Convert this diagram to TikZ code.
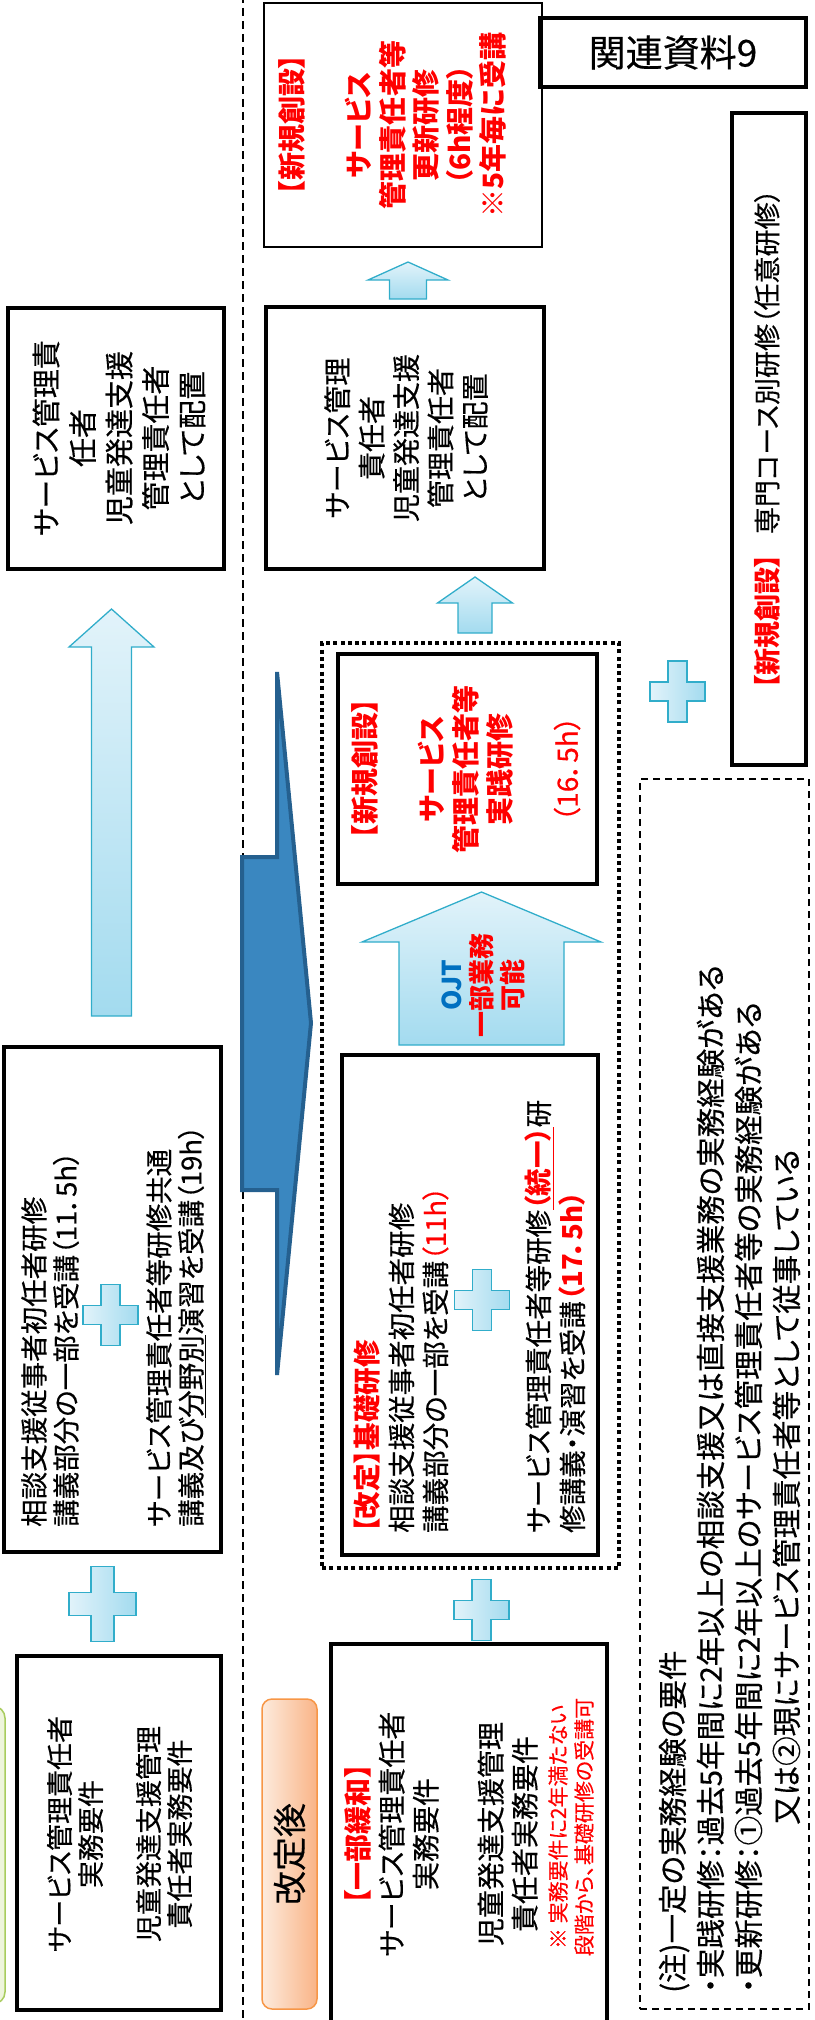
\documentclass[tikz,border=0pt]{standalone}
\usepackage{fontspec}
\setmainfont{Noto Sans CJK JP}[RawFeature=+palt,UprightFeatures={FakeBold=0.4}]
\usepackage{tikz}

\definecolor{kred}{HTML}{FF0000}
\definecolor{ojtblue}{HTML}{0070C0}
\definecolor{aqline}{HTML}{31ADCA}
\definecolor{aqlight}{HTML}{E2F3FA}
\definecolor{aqdark}{HTML}{A3DBEF}
\definecolor{bigfill}{HTML}{3A87C0}
\definecolor{bigline}{HTML}{25608F}
\definecolor{orline}{HTML}{F79646}
\definecolor{orlight}{HTML}{FDEBDD}
\definecolor{ordark}{HTML}{F9B487}
\definecolor{grline}{HTML}{A8CC5E}
\definecolor{grfill}{HTML}{EEF5DC}

\newcommand{\blockup}[6]{\path[uparr] ({#1-#5},#6) -- ({#1-#5},#3) -- ({#1-#4},#3) -- (#1,#2) -- ({#1+#4},#3) -- ({#1+#5},#3) -- ({#1+#5},#6) -- cycle;}

\tikzset{addmark/.pic={\path[plusfill] (-9.5,-30.5) -- (9.5,-30.5) -- (9.5,-9.5) -- (27.5,-9.5) -- (27.5,9.5) -- (9.5,9.5) -- (9.5,30.5) -- (-9.5,30.5) -- (-9.5,9.5) -- (-27.5,9.5) -- (-27.5,-9.5) -- (-9.5,-9.5) -- cycle;}}

\begin{document}
\begin{tikzpicture}[x=1pt,y=-1pt]
	\tikzstyle{box}=[draw,line width=3.5pt,inner sep=0pt]
	\tikzstyle{txt}=[rotate=90,inner sep=0pt,align=center]
	\tikzstyle{uparr}=[draw=aqline,line width=1.3pt,top color=aqlight,bottom color=aqdark]
	\tikzstyle{plusfill}=[draw=aqline,line width=1.3pt,left color=aqlight,right color=aqdark]
	\tikzstyle{bigarr}=[draw=bigline,line width=4pt,fill=bigfill]
	\tikzstyle{divider}=[line width=1.6pt,dash pattern=on 8pt off 5pt]
	\tikzstyle{kaibox}=[draw=orline,line width=1.5pt,rounded corners=10pt,left color=orlight,right color=ordark]
	\tikzstyle{greenbox}=[draw=grline,line width=1.5pt,rounded corners=12pt,fill=grfill]
	\useasboundingbox (0,0) rectangle (814,2020);
	\draw[divider] (243,-5) -- (243,2025);
	\node[greenbox,minimum width=205pt,minimum height=298pt] (genko) at (-97.5,1855) {};
		\node[box,line width=2pt,minimum width=278pt,minimum height=244pt] (renew) at (403,125) {};
		\node[txt,font=\fontsize{28}{33.5}\selectfont\bfseries,text=kred] (renewtext) at (392.5,125) {【新規創設】\\[33.5pt]サービス\\管理責任者等\\更新研修\\（6h程度）\\※5年毎に受講};
		\node[box,line width=4pt,minimum width=266pt,minimum height=69pt,font=\fontsize{37}{40}\selectfont] (kanren) at (673,52.5) {関連資料9};
		\node[box,minimum width=74pt,minimum height=652pt] (senmon) at (769,439) {};
		\node[txt,font=\fontsize{27}{32}\selectfont] (senmontext) at (767,439) {\textcolor{kred}{\bfseries 【新規創設】}\hspace{20pt}専門コース別研修（任意研修）};
		\node[box,minimum width=216pt,minimum height=261pt] (assignold) at (116,438.5) {};
		\node[txt,font=\fontsize{29}{36.5}\selectfont] (assignoldtext) at (119,438) {サービス管理責\\任者\\児童発達支援\\管理責任者\\として配置};
		\node[box,minimum width=278pt,minimum height=262pt] (assignnew) at (405,438) {};
		\node[txt,font=\fontsize{28}{34.4}\selectfont] (assignnewtext) at (406,438) {サービス管理\\責任者\\児童発達支援\\管理責任者\\として配置};
			\blockup{408}{262}{280}{40}{18.5}{299}
			\blockup{475}{577}{603}{37.5}{17}{633}
			\blockup{111.5}{609}{647}{42.5}{20}{1016}
			\blockup{481.5}{892}{942}{119.5}{82.5}{1045}
		\node[txt,font=\fontsize{26}{30.5}\selectfont\bfseries] (ojttext) at (483,985) {\textcolor{ojtblue}{OJT}\\\textcolor{kred}{一部業務}\\\textcolor{kred}{可能}};
		\node[draw,line width=4pt,dash pattern=on 4pt off 3.3pt,minimum width=297pt,minimum height=925pt] (jissen) at (470.5,1105.5) {};
		\node[box,minimum width=259pt,minimum height=230pt] (jissenin) at (467.5,769) {};
		\node[txt,font=\fontsize{28}{33.7}\selectfont\bfseries,text=kred] (jissentext) at (466,769) {【新規創設】\\[33.7pt]サービス\\管理責任者等\\実践研修\\[33.7pt]{\mdseries（16．5h）}};
		\node[box,minimum width=256pt,minimum height=500pt] (kiso) at (470,1305) {};
		\node[txt,align=left,anchor=west,font=\fontsize{27.5}{34}\selectfont] (kisotext) at (470,1533) {\textcolor{kred}{\bfseries 【改定】基礎研修}\\相談支援従事者初任者研修\\講義部分の一部を受講\textcolor{kred}{（11h）}\\[69pt]サービス管理責任者等研修\textcolor{kred}{\bfseries\underline{（統一）}}研\\修講義・演習を受講\textcolor{kred}{\bfseries（17．5h）}};
		\node[box,minimum width=217pt,minimum height=505pt] (kenshu) at (112.5,1299.5) {};
		\node[txt,align=left,anchor=west,font=\fontsize{27.5}{32}\selectfont] (kenshutext) at (113.5,1527) {相談支援従事者初任者研修\\講義部分の一部を受講（11．5h）\\[61pt]サービス管理責任者等研修共通\\講義及び\underline{分野別}演習を受講（19h）};
		\node[box,minimum width=204pt,minimum height=354pt] (reqold) at (119,1833) {};
		\node[txt,font=\fontsize{27}{31}\selectfont] (reqoldtext) at (119.5,1834) {サービス管理責任者\\実務要件\\[27pt]児童発達支援管理\\責任者実務要件};
		\node[box,minimum width=276pt,minimum height=380pt] (reqnew) at (469,1834) {};
		\node[txt,font=\fontsize{28}{34}\selectfont] (reqnewtext) at (441,1834) {\textcolor{kred}{\bfseries 【一部緩和】}\\サービス管理責任者\\実務要件\\[31pt]児童発達支援管理\\責任者実務要件};
		\node[txt,font=\fontsize{21}{26}\selectfont,text=kred] (reqnewnote) at (571,1827) {※ 実務要件に2年満たない\\段階から、基礎研修の受講可};
	\node[kaibox,minimum width=55pt,minimum height=310pt] (kaitei) at (289.5,1854) {};
	\node[txt,font=\fontsize{34}{40}\selectfont] (kaiteitext) at (kaitei.center) {改定後};
	\node[draw,line width=1.5pt,dash pattern=on 7pt off 5pt,minimum width=169pt,minimum height=1230pt] (notebox) at (724.5,1394) {};
	\node[txt,align=left,anchor=west,font=\fontsize{29.5}{38}\selectfont] (notetext) at (729.5,1993) {(注)一定の実務経験の要件\\・実践研修：過去5年間に2年以上の相談支援又は直接支援業務の実務経験がある\\・更新研修：①過去5年間に2年以上のサービス管理責任者等の実務経験がある\\\hspace*{168pt}又は②現にサービス管理責任者等として従事している};
	\draw[bigarr] (242,857) -- (277,857) -- (277,672) -- (311,1023) -- (277,1375) -- (277,1190) -- (242,1190) -- cycle;
		\pic (pluskenshu) at (110.5,1315) {addmark};
		\pic[scale=1.22] (plusold) at (102.5,1604) {addmark};
		\pic (pluskiso) at (482,1300) {addmark};
		\pic (plusnew) at (481.5,1610) {addmark};
		\pic (plussenmon) at (677.5,691.5) {addmark};
\end{tikzpicture}
\end{document}
